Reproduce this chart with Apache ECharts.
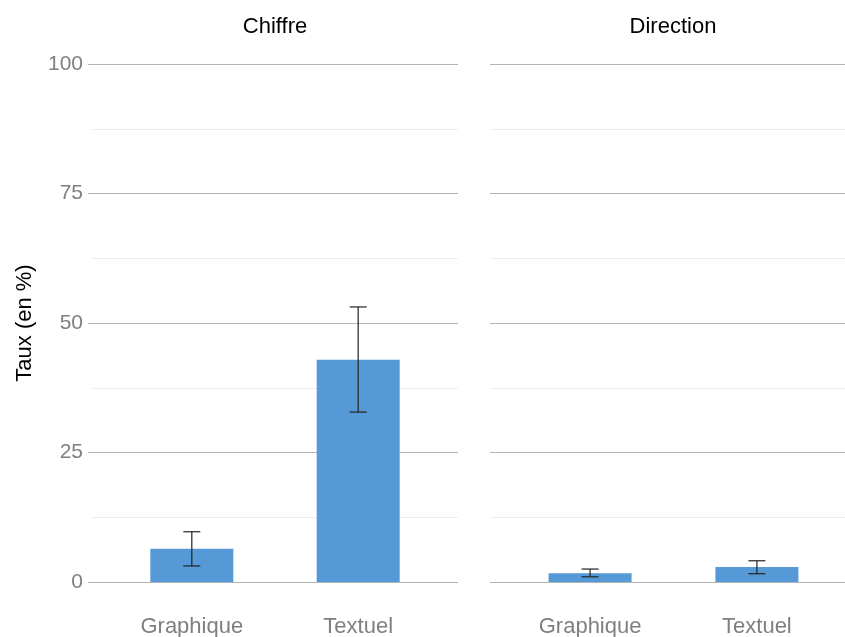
<!DOCTYPE html>
<html>
<head>
<meta charset="utf-8">
<script src="https://cdn.jsdelivr.net/npm/echarts@6/dist/echarts.min.js"></script>
<style>
  html, body { margin: 0; padding: 0; background: #fff; }
  #chart { width: 845px; height: 637px; }
</style>
</head>
<body>
<div id="chart"></div>
<script>
// facettes et catégories
const facets = ['Chiffre', 'Direction'];
const categories = ['Graphique', 'Textuel'];
const yTicks = [0, 25, 50, 75, 100];

// taux (en %) par facette
const chiffreValues = [6.4, 42.9];
const chiffreLow = [3.1, 32.8];
const chiffreHigh = [9.7, 53.1];

const directionValues = [1.7, 2.9];
const directionLow = [1.0, 1.6];
const directionHigh = [2.5, 4.1];

const fontFamily = '"Liberation Sans", Arial, sans-serif';
const barColor = '#5599d6';
const gridColor = '#b5b5b5';
const minorColor = '#eeeeee';
const labelColor = '#7f7f7f';

const chart = echarts.init(document.getElementById('chart'));

// positions des barres sur un axe continu (comme ggplot : 1, 2)
const toPoints = vals => vals.map((v, i) => [i + 1, v]);
const toErr = (lo, hi) => lo.map((l, i) => [i + 1, l, hi[i]]);

// barres d'erreur
const renderError = (params, api) => {
    const x = api.value(0);
    const low = api.coord([x, api.value(1)]);
    const high = api.coord([x, api.value(2)]);
    const half = 8.5;
    const style = { stroke: '#222222', lineWidth: 1.2 };
    return {
        type: 'group',
        children: [
            { type: 'line', shape: { x1: low[0], y1: low[1], x2: high[0], y2: high[1] }, style },
            { type: 'line', shape: { x1: high[0] - half, y1: high[1], x2: high[0] + half, y2: high[1] }, style },
            { type: 'line', shape: { x1: low[0] - half, y1: low[1], x2: low[0] + half, y2: low[1] }, style }
        ]
    };
};

const makeXAxis = (idx) => ({
    type: 'value',
    gridIndex: idx,
    min: 0.4,
    max: 2.6,
    axisLine: { show: false },
    axisTick: { show: false },
    splitLine: { show: false },
    axisLabel: {
        customValues: [1, 2],
        formatter: v => categories[Math.round(v) - 1] || '',
        color: labelColor,
        fontSize: 22,
        fontFamily,
        margin: 34
    }
});

const makeYAxis = (idx, showLabels) => ({
    type: 'value',
    gridIndex: idx,
    min: yTicks[0],
    max: yTicks[yTicks.length - 1],
    interval: 25,
    name: showLabels ? 'Taux (en %)' : '',
    nameLocation: 'middle',
    nameRotate: 90,
    nameGap: 56,
    nameTextStyle: { color: '#000', fontSize: 22, fontFamily },
    axisLine: { show: false },
    axisTick: { show: showLabels, length: 4, lineStyle: { color: gridColor } },
    axisLabel: {
        show: showLabels,
        color: labelColor,
        fontSize: 21,
        fontFamily,
        margin: 9
    },
    splitLine: { show: true, lineStyle: { color: gridColor, width: 1 } },
    minorTick: { show: false, splitNumber: 2 },
    minorSplitLine: { show: true, lineStyle: { color: minorColor, width: 1 } }
});

const titleStyle = { fontSize: 22, fontWeight: 'normal', color: '#000', fontFamily };

const option = {
    animation: false,
    backgroundColor: '#fff',
    title: [
        { text: facets[0], left: 275, top: 16, padding: 0, textAlign: 'center', textStyle: titleStyle },
        { text: facets[1], left: 673, top: 16, padding: 0, textAlign: 'center', textStyle: titleStyle }
    ],
    grid: [
        { left: 92, width: 366, top: 64, height: 518, outerBoundsMode: 'none', containLabel: false },
        { left: 490, width: 367, top: 64, height: 518, outerBoundsMode: 'none', containLabel: false }
    ],
    xAxis: [makeXAxis(0), makeXAxis(1)],
    yAxis: [makeYAxis(0, true), makeYAxis(1, false)],
    series: [
        {
            type: 'bar',
            xAxisIndex: 0,
            yAxisIndex: 0,
            barWidth: 83,
            itemStyle: { color: barColor },
            data: toPoints(chiffreValues)
        },
        {
            type: 'custom',
            xAxisIndex: 0,
            yAxisIndex: 0,
            renderItem: renderError,
            encode: { x: 0, y: [1, 2] },
            data: toErr(chiffreLow, chiffreHigh),
            z: 10
        },
        {
            type: 'bar',
            xAxisIndex: 1,
            yAxisIndex: 1,
            barWidth: 83,
            itemStyle: { color: barColor },
            data: toPoints(directionValues)
        },
        {
            type: 'custom',
            xAxisIndex: 1,
            yAxisIndex: 1,
            renderItem: renderError,
            encode: { x: 0, y: [1, 2] },
            data: toErr(directionLow, directionHigh),
            z: 10
        }
    ]
};

chart.setOption(option);
</script>
</body>
</html>
